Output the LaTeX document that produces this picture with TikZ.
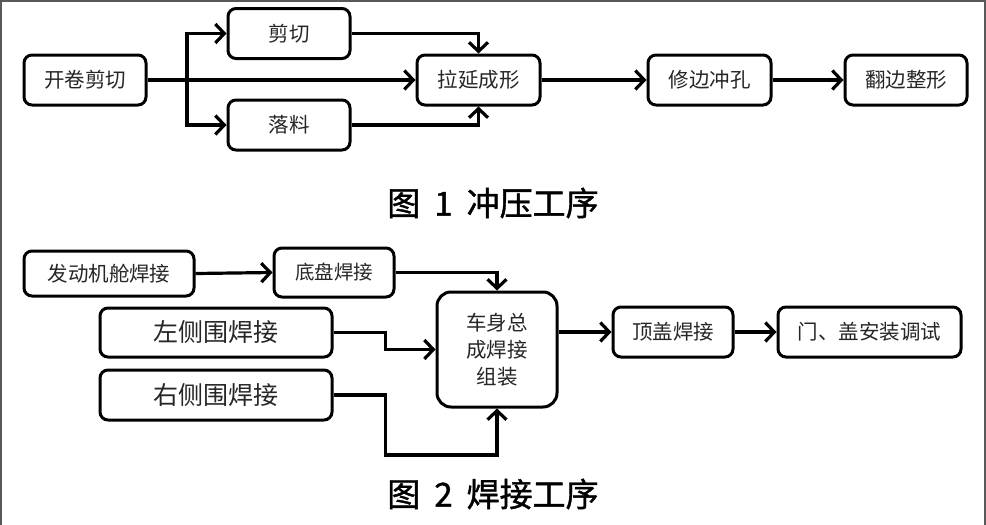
\documentclass[tikz,border=0pt]{standalone}
\usepackage{fontspec}
\setmainfont{Noto Sans CJK SC}
\newfontfamily\cjk{Noto Sans CJK SC}
\newfontfamily\cjkt[FakeBold=1.2]{Noto Sans CJK SC}
\usetikzlibrary{arrows.meta}
\tikzset{
  x=1pt, y=-1pt,
  box/.style={draw, line width=3pt, rounded corners=8pt, inner sep=0pt, align=center,
              font=\cjk\fontsize{20.5}{27}\selectfont, text=black!85},
  arr/.style={line width=3.2pt, -{Straight Barb[length=9pt,width=19pt]}},
  ttl/.style={font=\cjkt\fontsize{33}{36}\selectfont, inner sep=0pt}
}
\begin{document}
\begin{tikzpicture}
\useasboundingbox (0,0) rectangle (986,525);
\fill[white] (0,0) rectangle (986,525);
\draw[black!65, line width=2.5pt] (1.2,525) -- (1.2,1.2) -- (984.8,1.2) -- (984.8,525);

% Figure 1
\node[box, minimum width=122pt, minimum height=50pt] (a1) at (85,80) {开卷剪切};
\node[box, minimum width=122pt, minimum height=50pt] (a2) at (289,33.5) {剪切};
\node[box, minimum width=122pt, minimum height=50pt] (a3) at (289,125) {落料};
\node[box, minimum width=123pt, minimum height=50pt] (a4) at (478.5,80) {拉延成形};
\node[box, minimum width=123pt, minimum height=50pt] (a5) at (709.5,80) {修边冲孔};
\node[box, minimum width=122pt, minimum height=50pt] (a6) at (906,80) {翻边整形};
\coordinate (br) at (187,80);

\draw[arr] (a1.east) -- (a4.west);
\draw[arr] (br) |- (a2.west);
\draw[arr] (br) |- (a3.west);
\draw[arr] (a2.east) -| (a4.north);
\draw[arr] (a3.east) -| (a4.south);
\draw[arr] (a4.east) -- (a5.west);
\draw[arr] (a5.east) -- (a6.west);

\node[ttl] (t1) at (493,203) {图\hspace{14pt}1\hspace{14pt}冲压工序};

% Figure 2
\node[box, minimum width=170pt, minimum height=45pt] (b1) at (109,273.5) {发动机舱焊接};
\node[box, minimum width=120pt, minimum height=49pt, font=\cjk\fontsize{19.5}{24}\selectfont] (b2) at (334,272.5) {底盘焊接};
\node[box, minimum width=232pt, minimum height=49pt, font=\cjk\fontsize{25}{30}\selectfont] (b3) at (216,332.5) {左侧围焊接};
\node[box, minimum width=232pt, minimum height=50pt, font=\cjk\fontsize{25}{30}\selectfont] (b4) at (216,395) {右侧围焊接};
\node[box, minimum width=120pt, minimum height=115pt, rounded corners=14pt] (b5) at (497,349.5) {车身总\\成焊接\\组装};
\node[box, minimum width=120pt, minimum height=50pt] (b6) at (673,332) {顶盖焊接};
\node[box, minimum width=183pt, minimum height=50pt] (b7) at (869.5,332) {门、盖安装调试};

\draw[arr] (b1.east) -- (b2.west);
\draw[arr] (b2.east) -| (b5.north);
\draw[arr] (b3.east) -- ++(52,0) |- (b5.west);
\draw[arr] (b4.east) -- ++(52,0) -- ++(0,60) -| (b5.south);
\draw[arr] (b5.east |- b6.west) -- (b6.west);
\draw[arr] (b6.east) -- (b7.west);

\node[ttl] (t2) at (493,494) {图\hspace{14pt}2\hspace{14pt}焊接工序};
\end{tikzpicture}
\end{document}
